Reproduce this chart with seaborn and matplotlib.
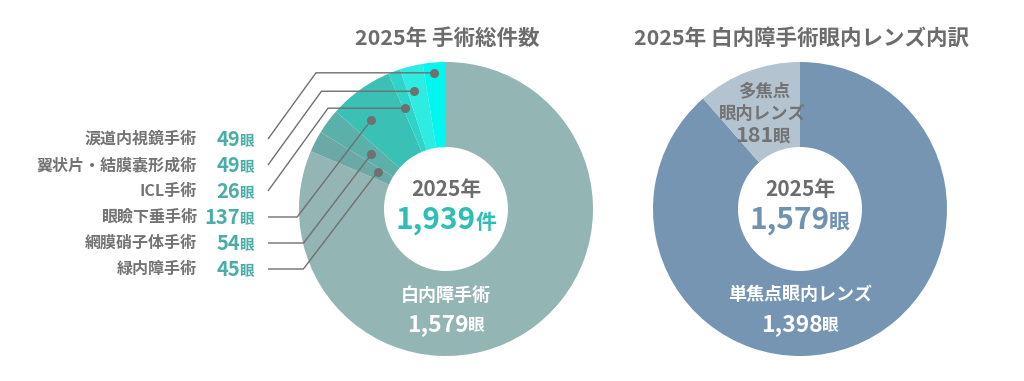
import numpy as np
import matplotlib
matplotlib.use("Agg")
import matplotlib.pyplot as plt
import seaborn as sns

# ---------------- data ----------------
year_label = "2025年"
left_title = "2025年 手術総件数"
right_title = "2025年 白内障手術眼内レンズ内訳"

surgery_names = ["白内障手術", "緑内障手術", "網膜硝子体手術", "眼瞼下垂手術",
                 "ICL手術", "翼状片・結膜嚢形成術", "涙道内視鏡手術"]
surgery_counts = [1579, 45, 54, 137, 26, 49, 49]
surgery_total = 1939
surgery_unit = "件"

lens_names = ["単焦点眼内レンズ", "多焦点眼内レンズ"]
lens_counts = [1398, 181]
lens_total = 1579
eye_unit = "眼"

# ---------------- style ----------------
sns.set_theme(style="white")
plt.rcParams["font.family"] = ["Noto Sans CJK JP", "DejaVu Sans"]

W, H = 1024, 381
GRAY = "#6c6c6c"
LABEL_GRAY = "#737373"
TEAL_TXT = "#4aaea6"
TEAL_BIG = "#2ebfb4"
BLUE_TXT = "#6f92b0"

surgery_colors = ["#93b5b3", "#6aa9a5", "#5bb0aa", "#3bc0b6",
                  "#30d3c9", "#2eece2", "#00f7ef"]
lens_colors = ["#7595b2", "#b3c3cf"]

LC = (446, 209)
RC = (800, 209)
R_OUT, R_IN = 147, 62

fig = plt.figure(figsize=(W / 100, H / 100), dpi=100)
ax = fig.add_axes([0, 0, 1, 1])


def Y(y):
    return H - y


wl, _ = ax.pie(surgery_counts, colors=surgery_colors, startangle=90,
               counterclock=False, radius=R_OUT, center=(LC[0], Y(LC[1])),
               wedgeprops=dict(width=R_OUT - R_IN, linewidth=0))
wr, _ = ax.pie(lens_counts, colors=lens_colors, startangle=90,
               counterclock=False, radius=R_OUT, center=(RC[0], Y(RC[1])),
               wedgeprops=dict(width=R_OUT - R_IN, linewidth=0))
ax.set_xlim(0, W)
ax.set_ylim(0, H)
ax.set_aspect("auto")
ax.axis("off")

renderer = fig.canvas.get_renderer()


def rich(x, y, parts, ha="center", gap=-1):
    """parts: list of (text, size, color, weight); y is the baseline (top-down px)."""
    objs = []
    widths = []
    for s, size, color, weight in parts:
        t = ax.text(0, Y(y), s, fontsize=size, color=color, weight=weight,
                    ha="left", va="baseline")
        bb = t.get_window_extent(renderer)
        objs.append(t)
        widths.append(bb.width)
    total = sum(widths) + gap * (len(parts) - 1)
    if ha == "center":
        x0 = x - total / 2
    elif ha == "right":
        x0 = x - total
    else:
        x0 = x
    for t, w in zip(objs, widths):
        t.set_x(x0)
        x0 += w + gap


# titles
ax.text(447, Y(38), left_title, fontsize=15.5, color=GRAY, weight="bold",
        ha="center", va="center")
ax.text(802, Y(38), right_title, fontsize=15.5, color=GRAY, weight="bold",
        ha="center", va="center")

# ---------- left donut: callouts ----------
# position of each leader dot inside its wedge (fraction of the wedge angle
# measured from its top-side edge, and fraction of the outer radius)
anchor_frac = {1: 0.36, 2: 0.52, 3: 0.68, 4: 0.80, 5: 0.67, 6: 0.55}
anchor_rad = {1: 0.53, 2: 0.63, 3: 0.79, 4: 0.74, 5: 0.83, 6: 0.93}
row_order = [6, 5, 4, 3, 2, 1]                      # top-to-bottom rows
row_y0, row_step = 139, 26
line_x0 = 268
LINE = "#707070"

for row, i in enumerate(row_order):
    w = wl[i]
    t1, t2 = w.theta1, w.theta2
    ang = np.deg2rad(t1 + (t2 - t1) * anchor_frac[i])
    r = R_OUT * anchor_rad[i]
    dx = LC[0] + r * np.cos(ang)
    dy = LC[1] - r * np.sin(ang)          # top-down pixel
    ly = row_y0 + row * row_step
    if row < 3:
        ex = line_x0 + (ly - dy) / 1.38
        pts = [(line_x0, ly), (ex, dy), (dx, dy)]
    else:
        ex = dx - (ly - dy) / 1.31
        pts = [(line_x0, ly), (ex, ly), (dx, dy)]
    xs = [p[0] for p in pts]
    ys = [Y(p[1]) for p in pts]
    ax.plot(xs, ys, color=LINE, lw=1.0, solid_capstyle="butt", zorder=3)
    ax.plot([dx], [Y(dy)], "o", color=LINE, ms=5.5, zorder=4)

    ax.text(197, Y(ly), surgery_names[i], fontsize=11.5, color=LABEL_GRAY,
            weight="bold", ha="right", va="center")
    rich(254, ly + 7, [(f"{surgery_counts[i]}", 14.5, TEAL_TXT, "bold"),
                       (eye_unit, 10.5, TEAL_TXT, "bold")], ha="right")

# left center
ax.text(LC[0], Y(190), year_label, fontsize=15, color=GRAY, weight="bold",
        ha="center", va="center")
rich(LC[0], 229, [(f"{surgery_total:,}", 21.5, TEAL_BIG, "bold"),
                  (surgery_unit, 15, TEAL_BIG, "bold")])
ax.text(LC[0], Y(295), surgery_names[0], fontsize=13, color="white",
        weight="bold", ha="center", va="center")
rich(LC[0], 331, [(f"{surgery_counts[0]:,}", 16.5, "white", "bold"),
                  (eye_unit, 12, "white", "bold")])

# ---------- right donut ----------
ax.text(RC[0], Y(190), year_label, fontsize=15, color=GRAY, weight="bold",
        ha="center", va="center")
rich(RC[0], 229, [(f"{lens_total:,}", 21.5, BLUE_TXT, "bold"),
                  (eye_unit, 15, BLUE_TXT, "bold")])
ax.text(RC[0], Y(295), lens_names[0], fontsize=13, color="white",
        weight="bold", ha="center", va="center")
rich(RC[0], 331, [(f"{lens_counts[0]:,}", 16.5, "white", "bold"),
                  (eye_unit, 12, "white", "bold")])

ml = lens_names[1]
ax.text(764, Y(92), ml[:3], fontsize=12.5, color=LABEL_GRAY, weight="bold",
        ha="center", va="center")
ax.text(762, Y(114), ml[3:], fontsize=12.5, color=LABEL_GRAY, weight="bold",
        ha="center", va="center")
rich(763, 142, [(f"{lens_counts[1]}", 15.5, LABEL_GRAY, "bold"),
                (eye_unit, 12.5, LABEL_GRAY, "bold")])

fig.savefig("out.png", dpi=100, facecolor="white")
